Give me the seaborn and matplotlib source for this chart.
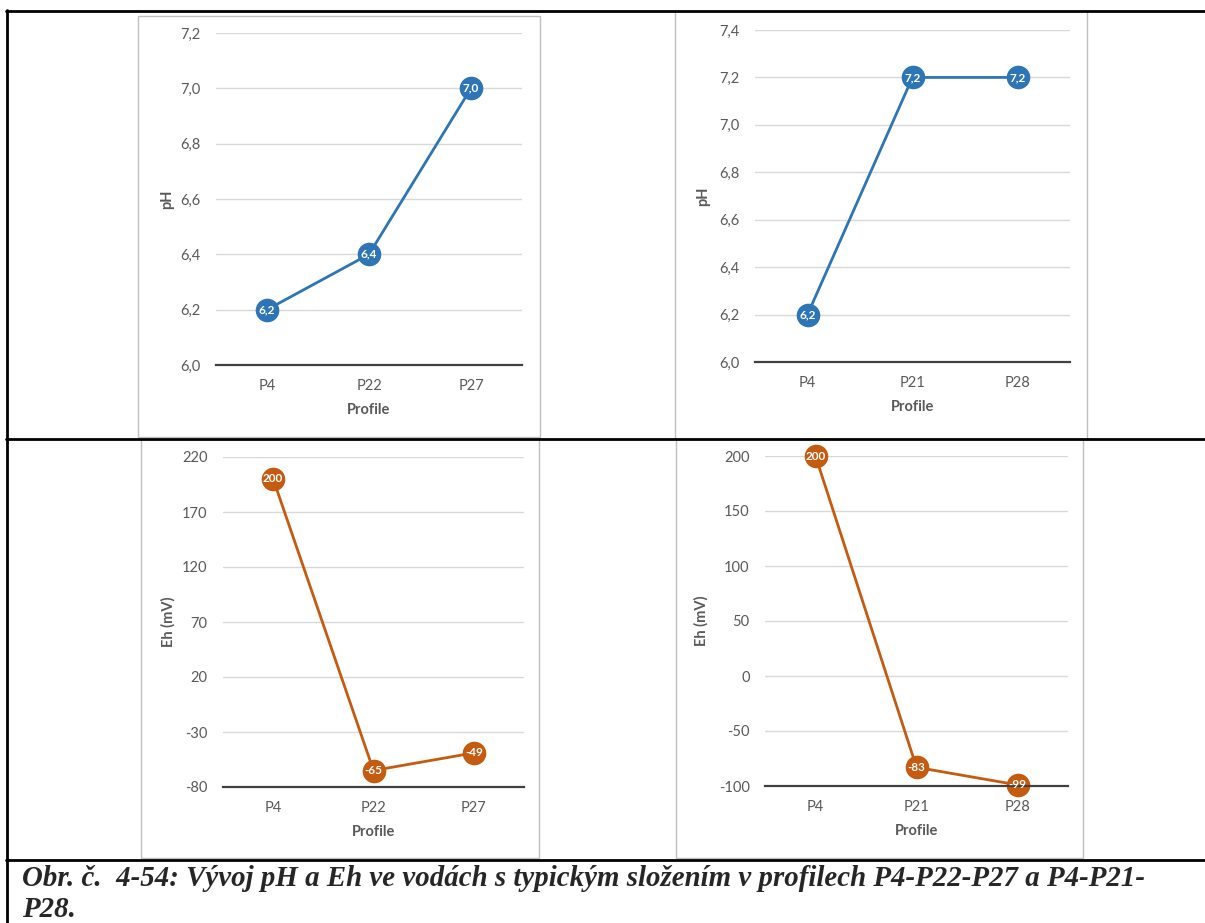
import numpy as np
import seaborn as sns
import matplotlib.pyplot as plt
from matplotlib.patches import Rectangle
from matplotlib.lines import Line2D
from matplotlib.ticker import FixedLocator, FuncFormatter

# Data
profily_a = ['P4', 'P22', 'P27']
profily_b = ['P4', 'P21', 'P28']
ph_a = [6.2, 6.4, 7.0]
ph_b = [6.2, 7.2, 7.2]
eh_a = [200, -65, -49]
eh_b = [200, -83, -99]

ph_a_ticks = [6.0, 6.2, 6.4, 6.6, 6.8, 7.0, 7.2]
ph_b_ticks = [6.0, 6.2, 6.4, 6.6, 6.8, 7.0, 7.2, 7.4]
eh_a_ticks = [-80, -30, 20, 70, 120, 170, 220]
eh_b_ticks = [-100, -50, 0, 50, 100, 150, 200]

caption_1 = "Obr. č.  4-54: Vývoj pH a Eh ve vodách s typickým složením v profilech P4-P22-P27 a P4-P21-"
caption_2 = "P28."

MODRA = '#2E75B6'
ORANZ = '#C55A11'
SEDA_TXT = '#595959'

sns.set_theme(style='white')
plt.rcParams['font.family'] = ['Lato', 'DejaVu Sans']

W, H = 1205, 923
fig = plt.figure(figsize=(W / 100, H / 100), dpi=100)


def px_axes(x1, x2, y1, y2):
    return fig.add_axes([x1 / W, 1 - y2 / H, (x2 - x1) / W, (y2 - y1) / H])


def box(x1, x2, y1, y2):
    fig.patches.append(Rectangle((x1 / W, 1 - y2 / H), (x2 - x1) / W, (y2 - y1) / H,
                                 transform=fig.transFigure, fill=False,
                                 edgecolor='#BFBFBF', linewidth=1.0, zorder=0))


def hline(y, x1, x2):
    fig.lines.append(Line2D([x1 / W, x2 / W], [1 - y / H, 1 - y / H],
                            transform=fig.transFigure, color='black', linewidth=2.0))


def vline(x, y1, y2):
    fig.lines.append(Line2D([x / W, x / W], [1 - y1 / H, 1 - y2 / H],
                            transform=fig.transFigure, color='black', linewidth=2.0))


def graf(ax, kategorie, hodnoty, ticks, barva, ylabel, fmt, ylab_x):
    sns.lineplot(x=kategorie, y=hodnoty, ax=ax, sort=False, color=barva, linewidth=2.0,
                 marker='o', markersize=17, markeredgewidth=0, clip_on=False)
    for i, v in enumerate(hodnoty):
        ax.text(i, v, fmt(v), ha='center', va='center', color='white',
                fontsize=8.5, fontweight='bold', zorder=5)
    ax.set_xlim(-0.5, len(kategorie) - 0.5)
    ax.set_ylim(ticks[0], ticks[-1])
    ax.yaxis.set_major_locator(FixedLocator(ticks))
    ax.yaxis.set_major_formatter(FuncFormatter(lambda v, p: fmt(v)))
    ax.grid(axis='y', color='#D9D9D9', linewidth=1.0)
    ax.grid(axis='x', visible=False)
    for s in ['top', 'right', 'left']:
        ax.spines[s].set_visible(False)
    ax.spines['bottom'].set_color('#404040')
    ax.spines['bottom'].set_linewidth(1.6)
    ax.set_facecolor('none')
    ax.tick_params(axis='y', length=0, pad=11, labelsize=10.5, labelcolor=SEDA_TXT)
    ax.tick_params(axis='x', length=0, pad=10, labelsize=10.5, labelcolor=SEDA_TXT)
    ax.set_xlabel('Profile', fontsize=10.5, fontweight='bold', color=SEDA_TXT, labelpad=7)
    ax.set_ylabel(ylabel, fontsize=10.5, fontweight='bold', color=SEDA_TXT)
    ax.yaxis.set_label_coords(ylab_x, 0.5)


fmt_ph = lambda v: f"{v:.1f}".replace('.', ',')
fmt_eh = lambda v: f"{v:.0f}"

# chart frames
box(138, 540, 16, 437)
box(675, 1087, 11, 439)
box(141, 539, 439, 858)
box(676, 1083, 439, 858)

ax1 = px_axes(216, 522, 33, 365)
graf(ax1, profily_a, ph_a, ph_a_ticks, MODRA, 'pH', fmt_ph, -42 / 306)
ax2 = px_axes(755, 1070, 30, 362)
graf(ax2, profily_b, ph_b, ph_b_ticks, MODRA, 'pH', fmt_ph, -45 / 315)
ax3 = px_axes(223, 524, 457, 787)
graf(ax3, profily_a, eh_a, eh_a_ticks, ORANZ, 'Eh (mV)', fmt_eh, -47 / 301)
ax4 = px_axes(765, 1068, 456, 786)
graf(ax4, profily_b, eh_b, eh_b_ticks, ORANZ, 'Eh (mV)', fmt_eh, -56 / 303)

# table lines
hline(11, 6, W)
hline(439, 6, W)
hline(860, 6, W)
vline(7, 10, H)

fig.text(22 / W, 1 - 886 / H, caption_1, family='Liberation Serif', fontsize=20.8,
         fontweight='bold', style='italic', va='baseline', ha='left')
fig.text(22 / W, 1 - 917 / H, caption_2, family='Liberation Serif', fontsize=20.8,
         fontweight='bold', style='italic', va='baseline', ha='left')

fig.savefig('out.png', dpi=100)
